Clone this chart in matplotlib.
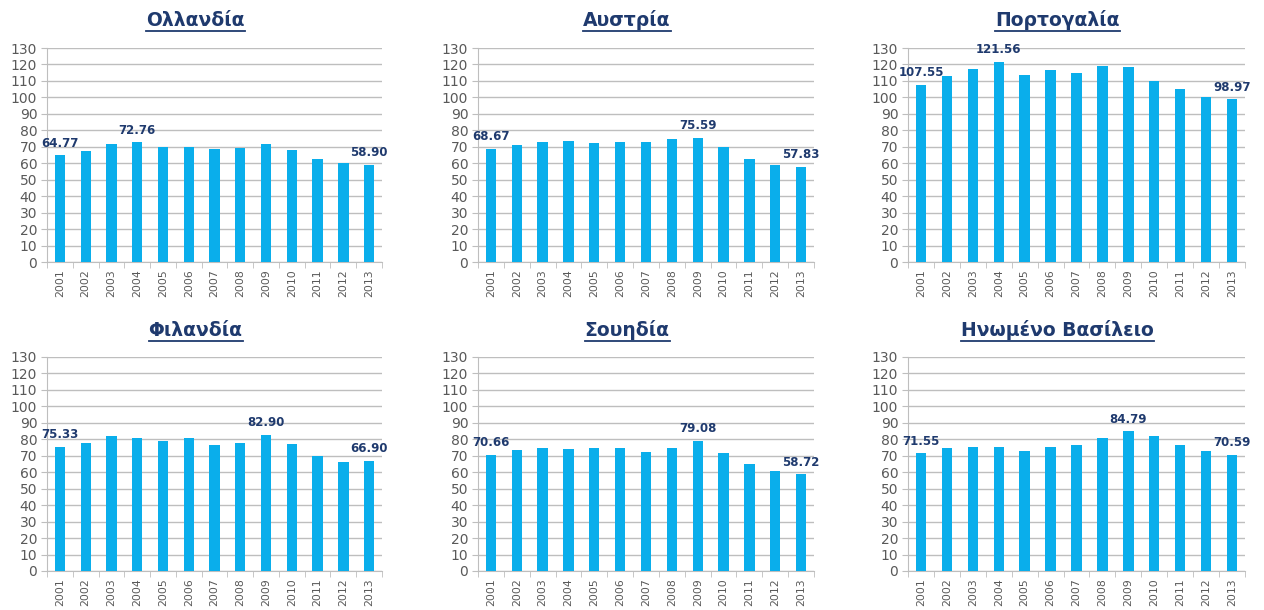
import matplotlib

matplotlib.use("Agg")
import matplotlib.pyplot as plt
from matplotlib.lines import Line2D

plt.rcParams["font.family"] = ["DejaVu Sans"]

years = [str(y) for y in range(2001, 2014)]

titles = ["Ολλανδία", "Αυστρία", "Πορτογαλία", "Φιλανδία", "Σουηδία", "Ηνωμένο Βασίλειο"]

netherlands = [64.77, 67.5, 71.8, 72.76, 70.0, 70.0, 68.8, 69.5, 71.8, 68.2, 62.3, 60.2, 58.90]
austria = [68.67, 70.8, 72.8, 73.6, 72.2, 73.2, 73.2, 74.6, 75.59, 70.0, 62.8, 59.2, 57.83]
portugal = [107.55, 112.7, 117.0, 121.56, 113.8, 116.7, 115.0, 119.0, 118.5, 110.0, 105.2, 100.3, 98.97]
finland = [75.33, 77.8, 82.0, 80.7, 79.2, 81.0, 76.8, 77.8, 82.90, 77.2, 69.7, 66.3, 66.90]
sweden = [70.66, 73.8, 74.6, 74.3, 74.6, 75.0, 72.2, 75.0, 79.08, 71.5, 64.7, 60.6, 58.72]
uk = [71.55, 74.5, 75.4, 75.4, 73.2, 75.4, 76.8, 81.0, 84.79, 81.8, 76.8, 73.2, 70.59]

# which bars carry a value label (indices into years)
labelled = [
    [0, 3, 12],
    [0, 8, 12],
    [0, 3, 12],
    [0, 8, 12],
    [0, 8, 12],
    [0, 8, 12],
]

series = [netherlands, austria, portugal, finland, sweden, uk]

BAR = "#0AAEEB"
NAVY = "#1F3A6E"
GREY = "#595959"
GRID = "#BEBEBE"

W, H = 1264, 610
fig = plt.figure(figsize=(W / 100, H / 100), dpi=100)

# axes boxes in pixels: left, right, top(130), bottom(0)
cols = [(47, 382), (478, 814), (908, 1245)]
rows = [(48, 262), (357, 571)]
title_y = [20, 330]
title_dx = -19

title_texts = []
for i, values in enumerate(series):
    r, c = divmod(i, 3)
    x0, x1 = cols[c]
    yt, yb = rows[r]
    ax = fig.add_axes([x0 / W, 1 - yb / H, (x1 - x0) / W, (yb - yt) / H])
    xs = range(len(years))
    ax.bar(xs, values, width=0.4, color=BAR, zorder=3)
    ax.set_xlim(-0.5, len(years) - 0.5)
    ax.set_ylim(0, 130)
    ax.set_yticks(range(0, 131, 10))
    ax.yaxis.grid(True, color=GRID, linewidth=1.0, zorder=0)
    ax.set_xticks(list(xs))
    ax.set_xticklabels(years, rotation=90, fontsize=7.8, color=GREY)
    ax.set_xticks([k - 0.5 for k in range(len(years) + 1)], minor=True)
    ax.tick_params(axis="x", which="major", length=0, pad=5)
    ax.tick_params(axis="x", which="minor", length=4, color=GRID, direction="out")
    ax.tick_params(axis="y", length=4, color=GRID, labelsize=10, labelcolor=GREY, pad=3)
    for s in ["top", "right"]:
        ax.spines[s].set_visible(False)
    for s in ["left", "bottom"]:
        ax.spines[s].set_color(GRID)
    for k in labelled[i]:
        ax.annotate(f"{values[k]:.2f}", (k, values[k]), xytext=(0, 4),
                    textcoords="offset points", ha="center", va="bottom",
                    fontsize=8.5, fontweight="bold", color=NAVY, zorder=4)
    cx = (x0 + x1) / 2 + title_dx
    t = fig.text(cx / W, 1 - title_y[r] / H, titles[i], ha="center", va="center",
                 fontsize=13.5, fontweight="bold", color=NAVY)
    title_texts.append(t)

# underline the titles
fig.canvas.draw()
renderer = fig.canvas.get_renderer()
for t in title_texts:
    bb = t.get_window_extent(renderer)
    y = (bb.y0 - 1) / H
    fig.add_artist(Line2D([bb.x0 / W, bb.x1 / W], [y, y], color=NAVY, linewidth=1.3))

fig.savefig("out.png", dpi=100, facecolor="white")
